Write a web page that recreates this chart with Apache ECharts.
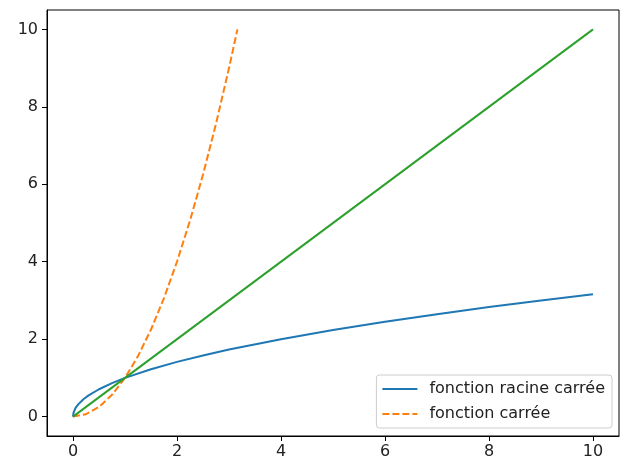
<!DOCTYPE html>
<html><head><meta charset="utf-8">
<script src="https://cdn.jsdelivr.net/npm/echarts@6/dist/echarts.min.js"></script>
<style>html,body{margin:0;padding:0;background:#fff}#c{width:623px;height:461px}</style>
</head><body><div id="c"></div>
<script>
// Values
const sqrtX = [0, 0.01, 0.05, 0.1, 0.2, 0.3, 0.5, 0.75, 1, 1.5, 2, 2.5, 3, 4, 5, 6, 7, 8, 9, 10];
const sqrtY = [0, 0.1, 0.224, 0.316, 0.447, 0.548, 0.707, 0.866, 1, 1.225, 1.414, 1.581, 1.732, 2, 2.236, 2.449, 2.646, 2.828, 3, 3.162];
const sqX = [0, 0.25, 0.5, 0.75, 1, 1.25, 1.5, 1.75, 2, 2.25, 2.5, 2.75, 3, 3.162];
const sqY = [0, 0.0625, 0.25, 0.5625, 1, 1.5625, 2.25, 3.0625, 4, 5.0625, 6.25, 7.5625, 9, 10];
const idX = [0, 10];
const idY = [0, 10];
const xTicks = [0, 2, 4, 6, 8, 10];
const yTicks = [0, 2, 4, 6, 8, 10];
const names = ['fonction racine carrée', 'fonction carrée', 'identité'];

const zip = (a, b) => a.map((v, i) => [v, b[i]]);
const font = 'DejaVu Sans';
const chart = echarts.init(document.getElementById('c'), null, {renderer: 'canvas'});
const axisCommon = {
  type: 'value',
  axisLine: {show: true, onZero: false, lineStyle: {color: '#000', width: 1}},
  axisTick: {show: true, inside: false, length: 5, lineStyle: {color: '#000'}},
  splitLine: {show: false},
};
chart.setOption({
  animation: false,
  grid: {left: 47, top: 10, right: 4, bottom: 25, show: true, borderColor: '#000', borderWidth: 1, containLabel: false},
  xAxis: Object.assign({}, axisCommon, {
    min: -0.5, max: 10.5,
    axisTick: Object.assign({}, axisCommon.axisTick, {customValues: xTicks}),
    axisLabel: {customValues: xTicks, color: '#222', fontSize: 16, fontFamily: font, margin: 8}
  }),
  yAxis: Object.assign({}, axisCommon, {
    min: -0.5, max: 10.5,
    axisTick: Object.assign({}, axisCommon.axisTick, {customValues: yTicks}),
    axisLabel: {customValues: yTicks, color: '#222', fontSize: 16, fontFamily: font, margin: 9}
  }),
  legend: {
    data: [names[0], names[1]],
    orient: 'vertical', right: 11, bottom: 33,
    backgroundColor: 'rgba(255,255,255,0.8)',
    borderColor: '#ccc', borderWidth: 1, borderRadius: 3,
    padding: [6, 7, 6, 5],
    itemGap: 9, itemWidth: 35, itemHeight: 14,
    itemStyle: {color: 'rgba(0,0,0,0)', borderWidth: 0, opacity: 0},
    textStyle: {fontSize: 16, fontFamily: font, color: '#222', padding: [0, 0, 0, 7]}
  },
  series: [
    {name: names[0], type: 'line', data: zip(sqrtX, sqrtY), showSymbol: false, symbol: 'none', smooth: false,
     lineStyle: {color: '#1f77b4', width: 2}, itemStyle: {color: '#1f77b4'}},
    {name: names[1], type: 'line', data: zip(sqX, sqY), showSymbol: false, symbol: 'none',
     lineStyle: {color: '#ff7f0e', width: 2, type: [7, 3]}, itemStyle: {color: '#ff7f0e'}},
    {name: names[2], type: 'line', data: zip(idX, idY), showSymbol: false, symbol: 'none',
     lineStyle: {color: '#2ca02c', width: 2}, itemStyle: {color: '#2ca02c'}}
  ]
});
</script></body></html>
